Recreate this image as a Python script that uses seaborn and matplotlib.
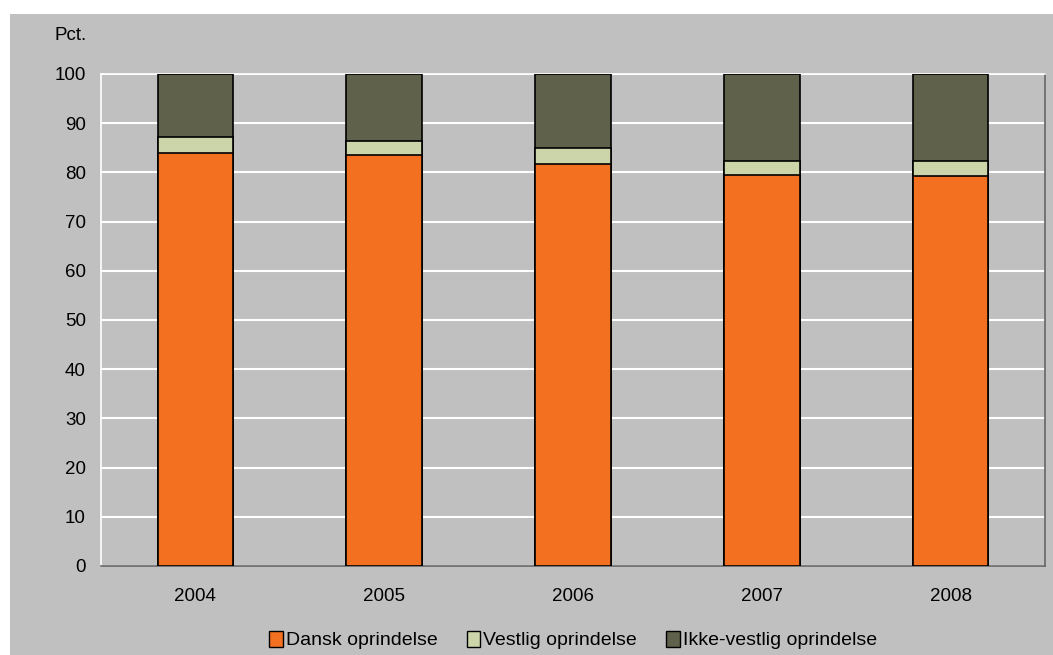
import numpy as np
import pandas as pd
import matplotlib
matplotlib.use('Agg')
import matplotlib.pyplot as plt
import seaborn as sns
from matplotlib.patches import Rectangle, Patch

years = ['2004', '2005', '2006', '2007', '2008']
dansk = [84.0, 83.5, 81.7, 79.4, 79.2]
vestlig = [3.2, 2.8, 3.3, 2.9, 3.1]
ikke_vestlig = [12.8, 13.7, 15.0, 17.7, 17.7]

labels = ['Dansk oprindelse', 'Vestlig oprindelse', 'Ikke-vestlig oprindelse']
colors = ['#F37021', '#CCD5AA', '#5F614B']

sns.set_theme(style='white')
plt.rcParams['font.family'] = ['Liberation Sans', 'DejaVu Sans']
plt.rcParams['text.color'] = 'black'

df = pd.DataFrame({'year': years, 'dansk': dansk, 'vestlig': vestlig, 'ikke': ikke_vestlig})
df['c1'] = df['dansk']
df['c2'] = df['dansk'] + df['vestlig']
df['c3'] = df['c2'] + df['ikke']

fig = plt.figure(figsize=(10.53, 6.55), dpi=100)
fig.patch.set_facecolor('white')
# grey chart area with a thin white margin top and left
fig.patches.append(Rectangle((10 / 1053, 0), 1 - 10 / 1053, 1 - 14 / 655,
                             transform=fig.transFigure, facecolor='#C0C0C0',
                             edgecolor='none', zorder=-10))
ax = fig.add_axes([101 / 1053, 1 - 566 / 655, (1045 - 101) / 1053, (566 - 74) / 655])
ax.set_facecolor('#C0C0C0')

# stacked bars: draw cumulative totals back to front
for col, c in zip(['c3', 'c2', 'c1'], colors[::-1]):
    sns.barplot(data=df, x='year', y=col, color=c, width=0.4, edgecolor='black',
                linewidth=1.2, saturation=1, ax=ax, zorder=3)

ax.set_ylim(0, 100)
ax.set_yticks(range(0, 101, 10))
ax.yaxis.grid(True, color='white', linewidth=1.5, zorder=0)
ax.set_axisbelow(True)
ax.set_xlabel('')
ax.set_ylabel('')
ax.tick_params(axis='both', labelsize=13.5, length=0, colors='black')
ax.tick_params(axis='y', pad=11)
ax.tick_params(axis='x', pad=16)
ax.spines['left'].set_color('white')
ax.spines['top'].set_color('white')
ax.spines['bottom'].set_color('#666666')
ax.spines['right'].set_color('#666666')
for s in ax.spines.values():
    s.set_linewidth(1.2)

fig.text(71 / 1053, 1 - 35 / 655, 'Pct.', fontsize=13.5, ha='center', va='center')

handles = [Patch(facecolor=c, edgecolor='black', linewidth=1) for c in colors]
fig.legend(handles, labels, loc='center', bbox_to_anchor=(573 / 1053, 1 - 640 / 655),
           ncol=3, frameon=False, fontsize=14, handlelength=0.7, handleheight=0.9,
           handletextpad=0.15, columnspacing=1.5)

fig.savefig('out.png', dpi=100)
